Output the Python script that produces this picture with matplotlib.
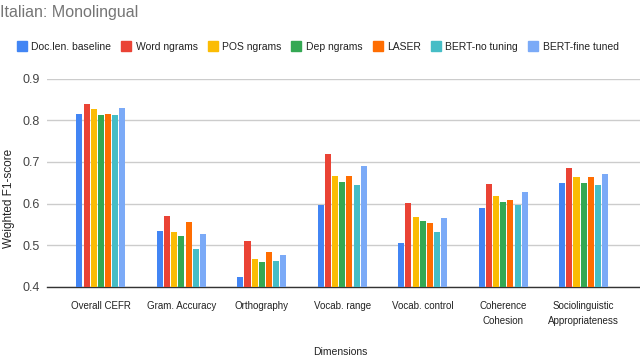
import matplotlib
matplotlib.use("Agg")
import matplotlib.pyplot as plt
from matplotlib.lines import Line2D
import numpy as np

plt.rcParams['font.family'] = ['Liberation Sans', 'DejaVu Sans']

# categories on the x axis
dimensions = ['Overall CEFR', 'Gram. Accuracy', 'Orthography', 'Vocab. range',
              'Vocab. control', 'Coherence\nCohesion', 'Sociolinguistic\nAppropriateness']

# series (weighted F1 per dimension)
doclen_baseline = [0.815, 0.535, 0.424, 0.596, 0.504, 0.588, 0.649]
word_ngrams     = [0.839, 0.571, 0.511, 0.720, 0.602, 0.646, 0.685]
pos_ngrams      = [0.826, 0.532, 0.466, 0.667, 0.568, 0.617, 0.664]
dep_ngrams      = [0.812, 0.523, 0.460, 0.652, 0.559, 0.603, 0.649]
laser           = [0.815, 0.555, 0.483, 0.667, 0.552, 0.608, 0.664]
bert_no_tuning  = [0.812, 0.491, 0.462, 0.644, 0.532, 0.596, 0.644]
bert_fine_tuned = [0.830, 0.527, 0.477, 0.690, 0.564, 0.628, 0.672]

series_names = ['Doc.len. baseline', 'Word ngrams', 'POS ngrams', 'Dep ngrams',
                'LASER', 'BERT-no tuning', 'BERT-fine tuned']
series = [doclen_baseline, word_ngrams, pos_ngrams, dep_ngrams,
          laser, bert_no_tuning, bert_fine_tuned]
colors = ['#4285F4', '#EA4335', '#FBBC04', '#34A853', '#FF6D01', '#46BDC6', '#7BAAF7']

fig = plt.figure(figsize=(6.4, 3.59), dpi=100)
ax = fig.add_axes([47 / 640, 1 - 286.7 / 359, 1 - 47 / 640, (286.7 - 78.7) / 359])

x = np.arange(len(dimensions))
pitch = 0.089
width = 0.075
for i, (vals, col) in enumerate(zip(series, colors)):
    offs = (i - 3) * pitch
    ax.bar(x + offs, np.array(vals) - 0.4, width, bottom=0.4, color=col, zorder=3)

ax.set_xlim(-0.67, 6.7)
ax.set_ylim(0.4, 0.9)
ax.set_yticks([0.4, 0.5, 0.6, 0.7, 0.8, 0.9])
ax.set_yticklabels(['0.4', '0.5', '0.6', '0.7', '0.8', '0.9'])
ax.grid(axis='y', color='#cccccc', linewidth=1, zorder=0)
ax.set_xticks(x)
ax.set_xticklabels(dimensions, fontsize=7, color='#222222', linespacing=1.7)
ax.tick_params(axis='y', labelsize=9, colors='#444444', length=0, pad=5)
ax.tick_params(axis='x', length=0, pad=10)
for s in ['top', 'right', 'left']:
    ax.spines[s].set_visible(False)
ax.spines['bottom'].set_color('#333333')
ax.spines['bottom'].set_linewidth(1)

fig.text(9 / 640, 1 - 198 / 359, 'Weighted F1-score', rotation=90, fontsize=8.5,
         color='#222222', ha='center', va='center')
fig.text(340 / 640, 1 - 352 / 359, 'Dimensions', fontsize=7.5, color='#222222',
         ha='center', va='center')
fig.text(0, 1 - 12 / 359, 'Italian: Monolingual', fontsize=11.5, color='#757575',
         ha='left', va='center')

handles = [Line2D([], [], marker='s', linestyle='', markersize=7.5,
                  markerfacecolor=c, markeredgecolor=c) for c in colors]
fig.legend(handles, series_names, loc='center', bbox_to_anchor=(318 / 640, 1 - 47 / 359),
           ncol=7, frameon=False, fontsize=7.5, handletextpad=0.5, columnspacing=1.05,
           handlelength=0.8, labelcolor='#222222')

fig.savefig('out.png', dpi=100)
